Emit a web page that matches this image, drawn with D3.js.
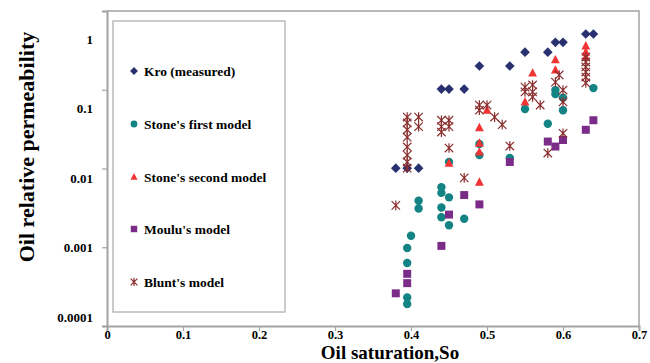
<!DOCTYPE html>
<html>
<head>
<meta charset="utf-8">
<script src="https://cdn.jsdelivr.net/npm/d3@7"></script>
<style>
  body { margin: 0; background: #fff; }
  svg text { font-family: "Liberation Serif", "Times New Roman", Times, "DejaVu Serif", serif; font-weight: bold; }
</style>
</head>
<body>
<div id="chart"></div>
<script>
// oil saturation / relative permeability
const kroSo = [0.38, 0.395, 0.41, 0.44, 0.45, 0.47, 0.49, 0.53, 0.55, 0.58, 0.59, 0.60, 0.63, 0.64];
const kroVal = [0.0101, 0.0101, 0.0101, 0.102, 0.102, 0.102, 0.2, 0.2, 0.3, 0.3, 0.4, 0.4, 0.51, 0.51];

const stone1So = [0.395, 0.395, 0.395, 0.395, 0.40, 0.41, 0.41, 0.44, 0.44, 0.45, 0.44, 0.44, 0.45, 0.47,
  0.45, 0.49, 0.49, 0.53, 0.55, 0.58, 0.59, 0.59, 0.60, 0.60, 0.64];
const stone1Val = [0.00023, 0.00019, 0.00063, 0.00098, 0.0014, 0.0039, 0.0031, 0.0058, 0.0049, 0.0043, 0.0032, 0.0024, 0.0019, 0.0023,
  0.0121, 0.0205, 0.0148, 0.0136, 0.057, 0.037, 0.099, 0.088, 0.079, 0.055, 0.105];

const stone2So = [0.45, 0.49, 0.49, 0.49, 0.49, 0.50, 0.55, 0.56, 0.59, 0.59, 0.63, 0.63, 0.63];
const stone2Val = [0.0117, 0.0067, 0.021, 0.0162, 0.033, 0.055, 0.070, 0.163, 0.178, 0.24, 0.36, 0.30, 0.26];

const mouluSo = [0.38, 0.395, 0.395, 0.44, 0.45, 0.47, 0.49, 0.53, 0.58, 0.59, 0.60, 0.63, 0.64];
const mouluVal = [0.00026, 0.00046, 0.00035, 0.00104, 0.0026, 0.0046, 0.0035, 0.0121, 0.022, 0.019, 0.023, 0.031, 0.041];

const bluntSo = [0.38, 0.395, 0.395, 0.395, 0.395, 0.395, 0.395, 0.395, 0.395, 0.41, 0.41,
  0.44, 0.44, 0.44, 0.45, 0.45, 0.45, 0.47, 0.49, 0.49, 0.50, 0.51, 0.52, 0.53,
  0.55, 0.55, 0.56, 0.56, 0.56, 0.57, 0.58, 0.59, 0.595, 0.60, 0.60, 0.60,
  0.63, 0.63, 0.63, 0.63, 0.63, 0.63];
const bluntVal = [0.0034, 0.045, 0.038, 0.031, 0.025, 0.0188, 0.0148, 0.0121, 0.0101, 0.045, 0.034,
  0.041, 0.034, 0.029, 0.041, 0.034, 0.0182, 0.0076, 0.064, 0.055, 0.064, 0.045, 0.036, 0.0193,
  0.108, 0.094, 0.115, 0.094, 0.081, 0.064, 0.0157, 0.125, 0.154, 0.099, 0.070, 0.028,
  0.26, 0.225, 0.195, 0.168, 0.145, 0.122];

const xTicks = [0, 0.1, 0.2, 0.3, 0.4, 0.5, 0.6, 0.7];
const yTicks = [0.0001, 0.001, 0.01, 0.1, 1];
const yTickLabels = ['0.0001', '0.001', '0.01', '0.1', '1'];

const seriesNames = ['Kro (measured)', "Stone's first model", "Stone's second model", "Moulu's model", "Blunt's model"];

const width = 650;
const height = 363;
const serif = '"Liberation Serif", "Times New Roman", Times, "DejaVu Serif", serif';

const svg = d3.select('#chart').append('svg')
  .attr('width', width)
  .attr('height', height);

svg.append('rect').attr('width', width).attr('height', height).attr('fill', '#fff');

const x = d3.scaleLinear().domain([0, 0.7]).range([107, 639]);
const y = d3.scaleLog().domain([0.0001, 1]).range([326, 11]);
// the printed labels sit a little off the tick marks in the original
const yLab = d3.scaleLog().domain([0.0001, 1]).range([317, 39]);

const frame = '#a3a3a3';

// top and right border
svg.append('path')
  .attr('d', `M${x(0)},${y(1)}H${x(0.7)}V${y(0.0001)}`)
  .attr('fill', 'none')
  .attr('stroke', frame)
  .attr('stroke-width', 1.5);

const yAxis = d3.axisLeft(y)
  .tickValues(yTicks)
  .tickSize(5)
  .tickPadding(9)
  .tickFormat((d, i) => yTickLabels[i]);

const gy = svg.append('g')
  .attr('transform', `translate(${x(0)},0)`)
  .call(yAxis);
gy.selectAll('text')
  .attr('transform', d => `translate(0,${yLab(d) - y(d)})`);

const xAxis = d3.axisBottom(x)
  .tickValues(xTicks)
  .tickSize(5)
  .tickPadding(-1)
  .tickFormat(d => d === 0 ? '0' : d3.format('.1f')(d));

const gx = svg.append('g')
  .attr('transform', `translate(0,${y(0.0001)})`)
  .call(xAxis);

[gx, gy].forEach(g => {
  g.attr('font-family', serif).attr('font-size', 13);
  g.select('.domain').attr('stroke', frame).attr('stroke-width', 2);
  g.selectAll('.tick line').attr('stroke', frame).attr('stroke-width', 1.2);
  g.selectAll('text')
    .attr('fill', '#000')
    .style('font-family', serif)
    .style('font-weight', 'bold')
    .style('font-size', '13px');
});
gx.selectAll('text').style('font-size', '12.5px');

// axis titles
svg.append('text')
  .attr('transform', 'translate(34,147) rotate(-90)')
  .attr('text-anchor', 'middle')
  .style('font-family', serif)
  .style('font-size', '22px')
  .text('Oil relative permeability');

svg.append('text')
  .attr('x', 390)
  .attr('y', 359)
  .attr('text-anchor', 'middle')
  .style('font-family', serif)
  .style('font-size', '19px')
  .text('Oil saturation,So');

// marker shapes
function diamond(r) { return `M0,${-r}L${r},0L0,${r}L${-r},0Z`; }
function triangle(r) { return `M0,${-r * 1.1}L${r},${r * 0.8}L${-r},${r * 0.8}Z`; }
function square(r) { return `M${-r},${-r}H${r}V${r}H${-r}Z`; }
function star(r) { return `M${-r},${-r}L${r},${r}M${-r},${r}L${r},${-r}M0,${-r * 1.15}V${r * 1.15}`; }

const styles = [
  { color: '#283070', draw: (g, s) => g.append('path').attr('d', diamond(s * 1.15)).attr('fill', '#283070') },
  { color: '#138383', draw: (g, s) => g.append('circle').attr('r', s).attr('fill', '#138383') },
  { color: '#f03434', draw: (g, s) => g.append('path').attr('d', triangle(s * 1.05)).attr('fill', '#f03434') },
  { color: '#7a2c88', draw: (g, s) => g.append('path').attr('d', square(s * 0.95)).attr('fill', '#7a2c88') },
  { color: '#8a2e2e', draw: (g, s) => g.append('path').attr('d', star(s)).attr('fill', 'none')
      .attr('stroke', '#8a2e2e').attr('stroke-width', 1.2) }
];

// legend
svg.append('rect')
  .attr('x', 113).attr('y', 21)
  .attr('width', 172).attr('height', 291)
  .attr('fill', '#fff')
  .attr('stroke', '#a8a8a8')
  .attr('stroke-width', 1.2);

const legendY = [71, 124, 177, 229, 282];
seriesNames.forEach((name, i) => {
  const g = svg.append('g').attr('transform', `translate(134,${legendY[i]})`);
  styles[i].draw(g, 3.4);
  svg.append('text')
    .attr('x', 144)
    .attr('y', legendY[i] + 4.8)
    .style('font-family', serif)
    .style('font-size', '13.5px')
    .text(name);
});

// data
const series = [
  [kroSo, kroVal],
  [stone1So, stone1Val],
  [stone2So, stone2Val],
  [mouluSo, mouluVal],
  [bluntSo, bluntVal]
];

series.forEach(([xs, vs], i) => {
  const pts = xs.map((s, j) => ({ s, v: vs[j] }));
  const g = svg.append('g');
  pts.forEach(p => {
    const m = g.append('g').attr('transform', `translate(${x(p.s)},${y(p.v)})`);
    styles[i].draw(m, 4.2);
  });
});
</script>
</body>
</html>
